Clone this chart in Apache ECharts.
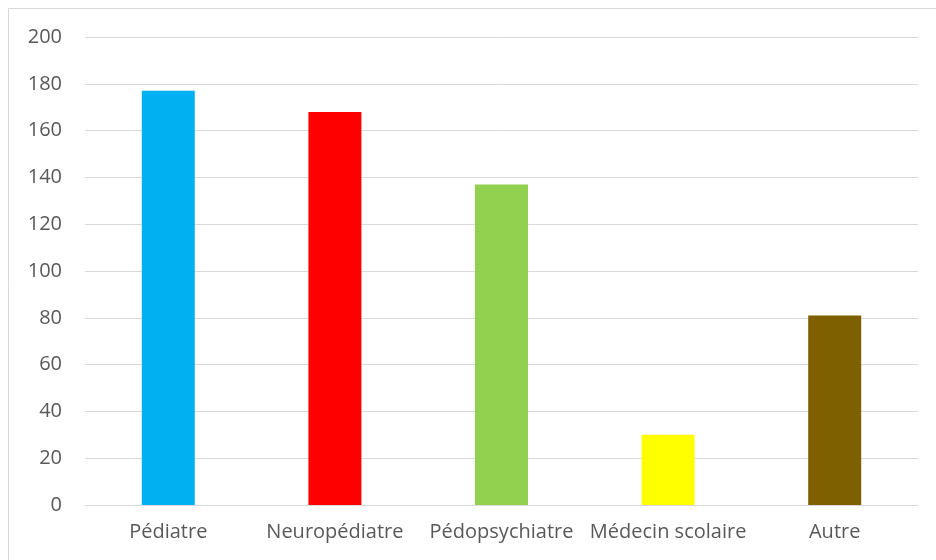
<!DOCTYPE html>
<html lang="fr">
<head>
    <meta charset="UTF-8">
    <title>Répartition par spécialité</title>
    <script src="https://cdn.jsdelivr.net/npm/echarts@6/dist/echarts.min.js"></script>
    <style>
        html, body { margin: 0; padding: 0; background: #fff; }
        #main { width: 936px; height: 560px; }
    </style>
</head>
<body>
<div id="main"></div>
<script type="text/javascript">
    var categories = ['Pédiatre', 'Neuropédiatre', 'Pédopsychiatre', 'Médecin scolaire', 'Autre'];
    var values = [177, 168, 137, 30, 81];
    var barColors = ['#00b0f0', '#ff0000', '#92d050', '#ffff00', '#7f6000'];

    var myChart = echarts.init(document.getElementById('main'));

    var seriesData = values.map(function (v, i) {
        return { value: v, itemStyle: { color: barColors[i] } };
    });

    var option = {
        animation: false,
        textStyle: { fontFamily: 'Open Sans' },
        // cadre gris autour du graphique
        graphic: [{
            type: 'rect',
            shape: { x: 8.5, y: 8.5, width: 1000, height: 1000 },
            style: { fill: 'none', stroke: '#d9d9d9', lineWidth: 1 },
            silent: true
        }],
        grid: { left: 85, right: 18, top: 37, bottom: 55 },
        xAxis: {
            type: 'category',
            data: categories,
            axisLine: { show: false },
            axisTick: { show: false },
            axisLabel: { color: '#595959', fontSize: 20, margin: 17, interval: 0 }
        },
        yAxis: {
            type: 'value',
            min: 0,
            max: 200,
            interval: 20,
            axisLine: { show: false },
            axisTick: { show: false },
            axisLabel: { color: '#595959', fontSize: 20, margin: 23 },
            splitLine: { lineStyle: { color: '#d9d9d9', width: 1 } }
        },
        series: [{
            type: 'bar',
            data: seriesData,
            barWidth: 53
        }]
    };
    myChart.setOption(option);
</script>
</body>
</html>
